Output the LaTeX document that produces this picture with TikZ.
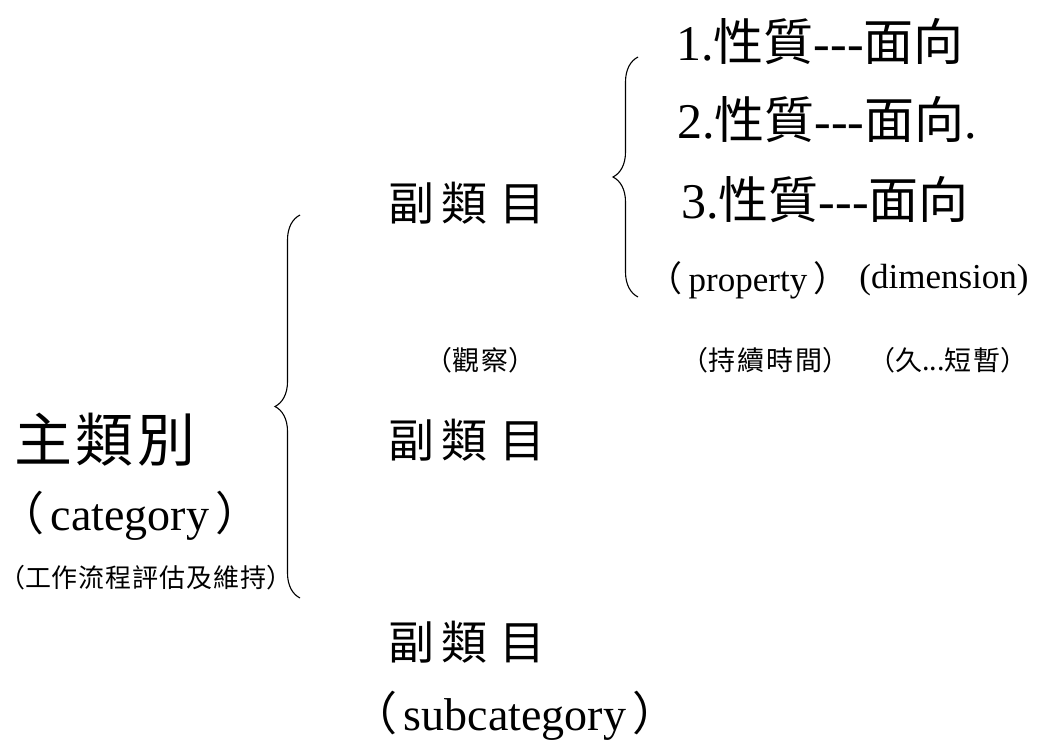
\documentclass[tikz,border=0pt]{standalone}
\usepackage{fontspec}
\setmainfont{Liberation Serif}
\newfontfamily\cjk{Noto Sans CJK TC}
\usetikzlibrary{decorations.pathreplacing}
\newcommand{\lp}{{\cjk （}\kern6pt}
\newcommand{\rp}{\kern6pt{\cjk ）}}

\begin{document}
\begin{tikzpicture}[x=1pt, y=-1pt,
t/.style={inner sep=0pt},
huge/.style={t, font=\cjk\fontsize{58}{64}\selectfont},
big/.style={t, font=\fontsize{50}{60}\selectfont},
sub/.style={t, font=\cjk\fontsize{46}{56}\selectfont},
eng/.style={t, font=\fontsize{46}{56}\selectfont},
mid/.style={t, font=\fontsize{35}{42}\selectfont},
note/.style={t, font=\cjk\fontsize{27}{32}\selectfont},
br/.style={decorate, decoration={brace, amplitude=25pt}, line width=1.1pt}]
\useasboundingbox (0,0) rectangle (1040,745);
% main category
\node[huge] (main) at (105,440) {主\kern4pt 類\kern4pt 別};
\node[eng] (cat) at (130,516) {\lp category\rp};
\node[note, font=\cjk\fontsize{26}{32}\selectfont] (catzh) at (146,578) {（工\kern1pt 作\kern1pt 流\kern1pt 程\kern1pt 評\kern1pt 估\kern1pt 及\kern1pt 維\kern1pt 持）};
% subcategories
\node[sub] (sub1) at (467,203) {副\kern8pt 類\kern12pt 目};
\node[sub] (sub2) at (467,440) {副\kern8pt 類\kern12pt 目};
\node[sub] (sub3) at (467,642) {副\kern8pt 類\kern12pt 目};
\node[eng] (subeng) at (515,716) {\lp subcategory\rp};
% properties
\node[big] (p1) at (820,42) {1.{\cjk 性質}-{}-{}-{\cjk 面向}};
\node[big] (p2) at (827,120) {2.{\cjk 性質}-{}-{}-{\cjk 面向}.};
\node[big] (p3) at (825,200) {3.{\cjk 性質}-{}-{}-{\cjk 面向}};
\node[mid] (prop) at (748,280) {\lp property\rp};
\node[mid] (dim) at (944,280) {(dimension)};
% example notes
\node[note] (obs) at (480,360) {（觀\kern2pt 察）};
\node[note] (dur) at (765,360) {（持\kern2pt 續\kern2pt 時\kern2pt 間）};
\node[note] (len) at (948,360) {（久...短\kern2pt 暫）};
% braces
\coordinate (b1top) at (300,215);
\coordinate (b1bot) at (300,598);
\coordinate (b2top) at (638,57);
\coordinate (b2bot) at (638,297);
\draw[br] (b1bot) -- (b1top);
\draw[br] (b2bot) -- (b2top);
\end{tikzpicture}
\end{document}
